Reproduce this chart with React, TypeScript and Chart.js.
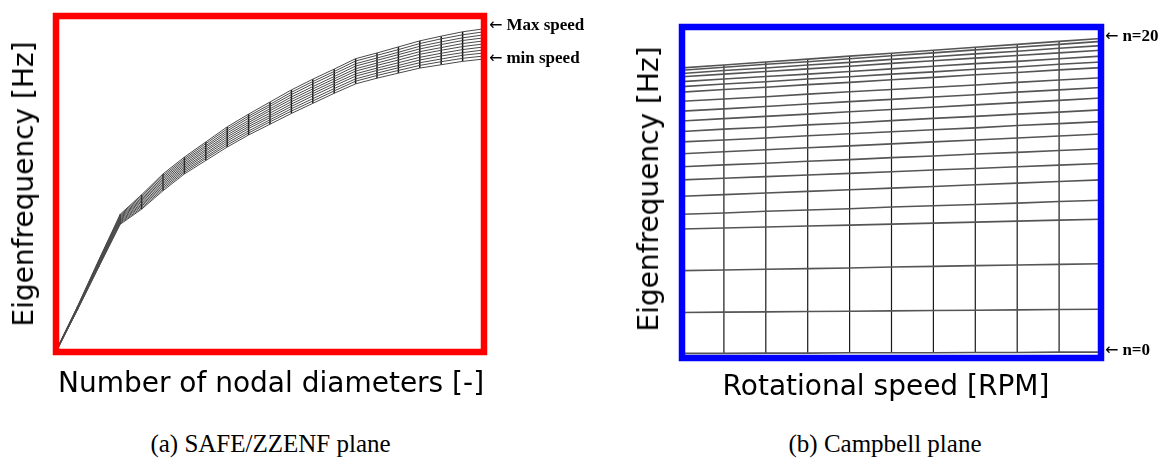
import React, { useEffect, useRef } from "react";
import { Chart, registerables } from "chart.js";

Chart.register(...registerables);

// Nodal diameters (x of the SAFE/ZZENF plane, one curve per rotational speed)
const nodalDiameters = [0, 1, 2, 3, 4, 5, 6, 7, 8, 9, 10, 11, 12, 13, 14, 15, 16, 17, 18, 19, 20];
// Rotational speed steps (x of the Campbell plane, one curve per nodal diameter)
const speedSteps = [0, 1, 2, 3, 4, 5, 6, 7, 8, 9, 10];

// Eigenfrequency (relative units) for each nodal diameter, one array per speed step
const freqSpeed0 = [0.0, 12.5, 25.3, 38.0, 42.5, 48.0, 53.0, 57.0, 61.0, 64.6, 67.8, 71.0, 74.0, 77.0, 79.8, 81.5, 83.0, 84.5, 85.5, 86.5, 87.2];
const freqSpeed1 = [0.0, 12.6, 25.5, 38.3, 42.9, 48.5, 53.5, 57.6, 61.6, 65.2, 68.5, 71.7, 74.7, 77.7, 80.6, 82.3, 83.8, 85.3, 86.4, 87.4, 88.1];
const freqSpeed2 = [0.1, 12.7, 25.7, 38.6, 43.4, 49.0, 54.0, 58.1, 62.2, 65.8, 69.1, 72.4, 75.4, 78.4, 81.3, 83.0, 84.6, 86.1, 87.2, 88.3, 89.0];
const freqSpeed3 = [0.1, 12.8, 25.9, 38.9, 43.8, 49.5, 54.5, 58.7, 62.8, 66.5, 69.8, 73.1, 76.2, 79.2, 82.1, 83.8, 85.3, 86.9, 88.1, 89.1, 89.9];
const freqSpeed4 = [0.2, 12.9, 26.1, 39.2, 44.2, 50.0, 55.0, 59.2, 63.4, 67.1, 70.4, 73.8, 76.9, 79.9, 82.8, 84.5, 86.1, 87.7, 88.9, 90.0, 90.8];
const freqSpeed5 = [0.2, 13.0, 26.4, 39.5, 44.7, 50.5, 55.5, 59.8, 64.0, 67.7, 71.1, 74.5, 77.6, 80.6, 83.6, 85.3, 86.9, 88.6, 89.8, 90.9, 91.7];
const freqSpeed6 = [0.2, 13.1, 26.6, 39.8, 45.1, 51.0, 56.0, 60.3, 64.6, 68.3, 71.8, 75.2, 78.3, 81.3, 84.3, 86.0, 87.7, 89.4, 90.6, 91.8, 92.6];
const freqSpeed7 = [0.3, 13.2, 26.8, 40.1, 45.5, 51.5, 56.5, 60.9, 65.2, 68.9, 72.4, 75.9, 79.0, 82.0, 85.1, 86.8, 88.5, 90.2, 91.5, 92.7, 93.5];
const freqSpeed8 = [0.3, 13.3, 27.0, 40.4, 45.9, 52.0, 57.0, 61.4, 65.8, 69.6, 73.1, 76.6, 79.8, 82.8, 85.8, 87.5, 89.2, 91.0, 92.3, 93.5, 94.4];
const freqSpeed9 = [0.4, 13.4, 27.2, 40.7, 46.4, 52.5, 57.5, 62.0, 66.4, 70.2, 73.7, 77.3, 80.5, 83.5, 86.6, 88.3, 90.0, 91.8, 93.2, 94.4, 95.3];
const freqSpeed10 = [0.4, 13.5, 27.4, 41.0, 46.8, 53.0, 58.0, 62.5, 67.0, 70.8, 74.4, 78.0, 81.2, 84.2, 87.3, 89.0, 90.8, 92.6, 94.0, 95.3, 96.2];

const speedCurves = [
  freqSpeed0, freqSpeed1, freqSpeed2, freqSpeed3, freqSpeed4, freqSpeed5,
  freqSpeed6, freqSpeed7, freqSpeed8, freqSpeed9, freqSpeed10,
];

const framePlugin = {
  id: "frame",
  afterDatasetsDraw(chart: any, _args: any, opts: any) {
    const { ctx, chartArea } = chart;
    ctx.save();
    ctx.strokeStyle = opts.color;
    ctx.lineWidth = opts.width;
    ctx.strokeRect(chartArea.left, chartArea.top, chartArea.right - chartArea.left, chartArea.bottom - chartArea.top);
    ctx.restore();
  },
};

function baseOptions(padding: any, xMin: number, xMax: number, yMin: number, yMax: number, frame: any) {
  return {
    responsive: false,
    animation: false,
    events: [],
    layout: { padding },
    plugins: {
      legend: { display: false },
      tooltip: { enabled: false },
      frame,
    },
    elements: { point: { radius: 0 }, line: { tension: 0 } },
    scales: {
      x: { type: "linear", min: xMin, max: xMax, display: false },
      y: { type: "linear", min: yMin, max: yMax, display: false },
    },
  };
}

function SafeChart() {
  const ref = useRef<HTMLCanvasElement>(null);
  useEffect(() => {
    const datasets: any[] = [];
    speedCurves.forEach((curve) => {
      datasets.push({
        data: nodalDiameters.map((nd, i) => ({ x: nd, y: curve[i] })),
        borderColor: "#4a4a4a",
        borderWidth: 1,
        pointRadius: 0,
      });
    });
    nodalDiameters.forEach((nd, i) => {
      if (i === 0) return;
      datasets.push({
        data: [
          { x: nd, y: freqSpeed0[i] },
          { x: nd, y: freqSpeed10[i] },
        ],
        borderColor: "#111111",
        borderWidth: 1.5,
        pointRadius: 0,
      });
    });
    const chart = new Chart(ref.current as HTMLCanvasElement, {
      type: "line",
      data: { datasets },
      options: baseOptions({ left: 56, right: 116, top: 16, bottom: 48 }, 0, 20, 0, 100, { color: "#ff0000", width: 6.5 }) as any,
      plugins: [framePlugin],
    });
    return () => chart.destroy();
  }, []);
  return <canvas ref={ref} width={600} height={400} style={{ position: "absolute", left: 0, top: 0 }} />;
}

function CampbellChart() {
  const ref = useRef<HTMLCanvasElement>(null);
  useEffect(() => {
    const datasets: any[] = [];
    nodalDiameters.forEach((_nd, n) => {
      datasets.push({
        data: speedSteps.map((s, k) => ({ x: s, y: speedCurves[k][n] })),
        borderColor: "#555555",
        borderWidth: 1.6,
        pointRadius: 0,
      });
    });
    speedSteps.forEach((s, k) => {
      if (k === 0 || k === speedSteps.length - 1) return;
      datasets.push({
        data: [
          { x: s, y: speedCurves[k][0] },
          { x: s, y: speedCurves[k][nodalDiameters.length - 1] },
        ],
        borderColor: "#1a1a1a",
        borderWidth: 1.2,
        pointRadius: 0,
      });
    });
    const chart = new Chart(ref.current as HTMLCanvasElement, {
      type: "line",
      data: { datasets },
      options: baseOptions({ left: 82, right: 60, top: 27, bottom: 42 }, 0, 10, -1.4, 99.7, { color: "#0000ff", width: 6.5 }) as any,
      plugins: [framePlugin],
    });
    return () => chart.destroy();
  }, []);
  return <canvas ref={ref} width={561} height={400} style={{ position: "absolute", left: 600, top: 0 }} />;
}

const sans = "'DejaVu Sans', Verdana, sans-serif";
const serif = "'Liberation Serif', 'Times New Roman', serif";

function Label(props: { text: string; x: number; y: number; size: number; font: string; bold?: boolean; rotate?: boolean; align?: "center" | "left" }) {
  const { text, x, y, size, font, bold, rotate, align = "center" } = props;
  let transform = "";
  if (rotate) transform = "translate(-50%, -50%) rotate(-90deg)";
  else if (align === "center") transform = "translateX(-50%)";
  else transform = "translateY(-50%)";
  return (
    <div
      style={{
        position: "absolute",
        left: x,
        top: y,
        fontFamily: font,
        fontSize: size,
        fontWeight: bold ? 700 : 400,
        lineHeight: `${size}px`,
        whiteSpace: "nowrap",
        color: "#000",
        transform,
      }}
    >
      {text}
    </div>
  );
}

function Pointer(props: { text: string; x: number; y: number }) {
  const { text, x, y } = props;
  return (
    <div
      style={{
        position: "absolute",
        left: x,
        top: y,
        transform: "translateY(-50%)",
        whiteSpace: "nowrap",
        lineHeight: "18px",
        color: "#000",
      }}
    >
      <span style={{ fontFamily: "'DejaVu Sans', sans-serif", fontSize: 16, fontWeight: 400 }}>←</span>
      <span style={{ fontFamily: serif, fontSize: 17, fontWeight: 700, marginLeft: 4 }}>{text}</span>
    </div>
  );
}

export default function App() {
  return (
    <div style={{ position: "absolute", left: 0, top: 0, width: 1161, height: 471, background: "#fff", overflow: "hidden" }}>
      <SafeChart />
      <CampbellChart />
      <Label text="Eigenfrequency [Hz]" x={23.5} y={183.5} size={28} font={sans} rotate />
      <Label text="Number of nodal diameters [-]" x={271} y={369} size={28} font={sans} />
      <Label text="Eigenfrequency [Hz]" x={648.5} y={189} size={28} font={sans} rotate />
      <Label text="Rotational speed [RPM]" x={886} y={372} size={28} font={sans} />
      <Pointer text="Max speed" x={489} y={25} />
      <Pointer text="min speed" x={489} y={57.5} />
      <Pointer text="n=20" x={1105} y={36} />
      <Pointer text="n=0" x={1105} y={350} />
      <Label text="(a) SAFE/ZZENF plane" x={270.5} y={431} size={25} font={serif} />
      <Label text="(b) Campbell plane" x={885} y={431} size={25} font={serif} />
    </div>
  );
}
